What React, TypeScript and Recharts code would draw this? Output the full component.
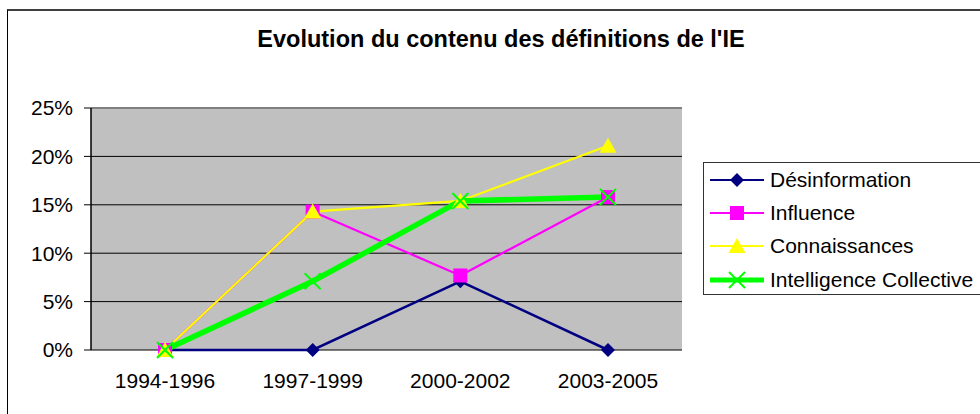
import { CartesianGrid, Legend, Line, LineChart, ReferenceLine, XAxis, YAxis } from "recharts"

const periods = ["1994-1996", "1997-1999", "2000-2002", "2003-2005"]
const desinformation = [0, 0, 0.071, 0]
const influence = [0, 0.143, 0.077, 0.158]
const connaissances = [0, 0.143, 0.154, 0.211]
const intelligenceCollective = [0, 0.071, 0.154, 0.158]
const yTicks = [0, 0.05, 0.1, 0.15, 0.2, 0.25]
const frameTicks = [0, 1, 2, 3, 4]

const data = periods.map((period, i) => ({
  period,
  desinformation: desinformation[i],
  influence: influence[i],
  connaissances: connaissances[i],
  intelligence: intelligenceCollective[i],
}))

type Shape = "diamond" | "square" | "triangle" | "cross"

const series: { key: string; name: string; color: string; width: number; shape: Shape }[] = [
  { key: "desinformation", name: "Désinformation", color: "#000080", width: 2.5, shape: "diamond" },
  { key: "influence", name: "Influence", color: "#FF00FF", width: 2.2, shape: "square" },
  { key: "connaissances", name: "Connaissances", color: "#FFFF00", width: 2.2, shape: "triangle" },
  { key: "intelligence", name: "Intelligence Collective", color: "#00FF00", width: 5.5, shape: "cross" },
]

const font = '"Liberation Sans", Arial, sans-serif'

function Marker({ shape, x, y, color }: { shape: Shape; x: number; y: number; color: string }) {
  switch (shape) {
    case "diamond":
      return <polygon points={`${x},${y - 7} ${x + 7},${y} ${x},${y + 7} ${x - 7},${y}`} fill={color} />
    case "square":
      return <rect x={x - 7} y={y - 7} width={14} height={14} fill={color} />
    case "triangle":
      return <polygon points={`${x},${y - 8} ${x + 8.5},${y + 7} ${x - 8.5},${y + 7}`} fill={color} />
    default:
      return (
        <path
          d={`M${x - 8},${y - 8}L${x + 8},${y + 8}M${x + 8},${y - 8}L${x - 8},${y + 8}`}
          stroke={color}
          strokeWidth={2}
          fill="none"
        />
      )
  }
}

function LegendBox() {
  return (
    <div
      style={{
        width: 290,
        height: 133,
        border: "1px solid #333",
        background: "#fff",
        fontFamily: font,
        fontSize: 21,
        color: "#000",
        boxSizing: "border-box",
      }}
    >
      {series.map((s) => (
        <div key={s.key} style={{ display: "flex", alignItems: "center", height: 33.4 }}>
          <svg width={66} height={20} style={{ display: "block" }}>
            <line x1={6} x2={60} y1={10} y2={10} stroke={s.color} strokeWidth={s.width > 5 ? 5 : 2} />
            <Marker shape={s.shape} x={33} y={10} color={s.color} />
          </svg>
          <span style={{ lineHeight: "20px" }}>{s.name}</span>
        </div>
      ))}
    </div>
  )
}

export default function App() {
  return (
    <div style={{ position: "absolute", left: 0, top: 0, width: 980, height: 414, overflow: "hidden", background: "#fff", fontFamily: font }}>
      <div
        style={{
          position: "absolute",
          left: 7,
          top: 9,
          width: 1100,
          height: 600,
          borderTop: "2px solid #404040",
          borderLeft: "1px solid #000",
        }}
      />
      <div
        style={{
          position: "absolute",
          left: 0,
          top: 26,
          width: 1002,
          textAlign: "center",
          fontWeight: "bold",
          fontSize: 23.5,
          color: "#000",
        }}
      >
        Evolution du contenu des définitions de l'IE
      </div>
      <LineChart
        width={980}
        height={414}
        data={data}
        margin={{ top: 108, right: 298, bottom: 0, left: 0 }}
        style={{ position: "absolute", left: 0, top: 0, fontFamily: font }}
      >
        <CartesianGrid xAxisId="cat" vertical={false} stroke="#000" fill="#C0C0C0" fillOpacity={1} />
        <XAxis
          xAxisId="frame"
          type="number"
          domain={[0, 4]}
          ticks={frameTicks}
          tick={false}
          tickSize={6}
          height={0}
          axisLine={{ stroke: "#000", strokeWidth: 1.5 }}
          tickLine={{ stroke: "#000" }}
        />
        <XAxis
          xAxisId="cat"
          dataKey="period"
          padding={{ left: 74, right: 74 }}
          height={64}
          axisLine={false}
          tickLine={false}
          tickSize={0}
          tickMargin={23.5}
          tick={{ fill: "#000", fontSize: 21 }}
          interval={0}
        />
        <YAxis
          width={91}
          domain={[0, 0.25]}
          ticks={yTicks}
          tickFormatter={(v: number) => `${Math.round(v * 100)}%`}
          tick={{ fill: "#000", fontSize: 21 }}
          tickSize={7}
          tickMargin={11}
          axisLine={{ stroke: "#000", strokeWidth: 1.5 }}
          tickLine={{ stroke: "#000" }}
        />
        <ReferenceLine xAxisId="cat" y={0.25} stroke="#808080" strokeWidth={2} />
        <ReferenceLine xAxisId="frame" x={4} stroke="#808080" strokeWidth={2} />
        {series.map((s) => (
          <Line
            key={s.key}
            xAxisId="cat"
            dataKey={s.key}
            name={s.name}
            stroke={s.color}
            strokeWidth={s.width}
            isAnimationActive={false}
            dot={(props: any) => (
              <Marker key={`${s.key}-${props.index}`} shape={s.shape} x={props.cx} y={props.cy} color={s.color} />
            )}
            activeDot={false}
          />
        ))}
        <Legend
          layout="vertical"
          align="center"
          verticalAlign="middle"
          wrapperStyle={{ left: 703, top: 162, width: 290 }}
          content={() => <LegendBox />}
        />
      </LineChart>
    </div>
  )
}
